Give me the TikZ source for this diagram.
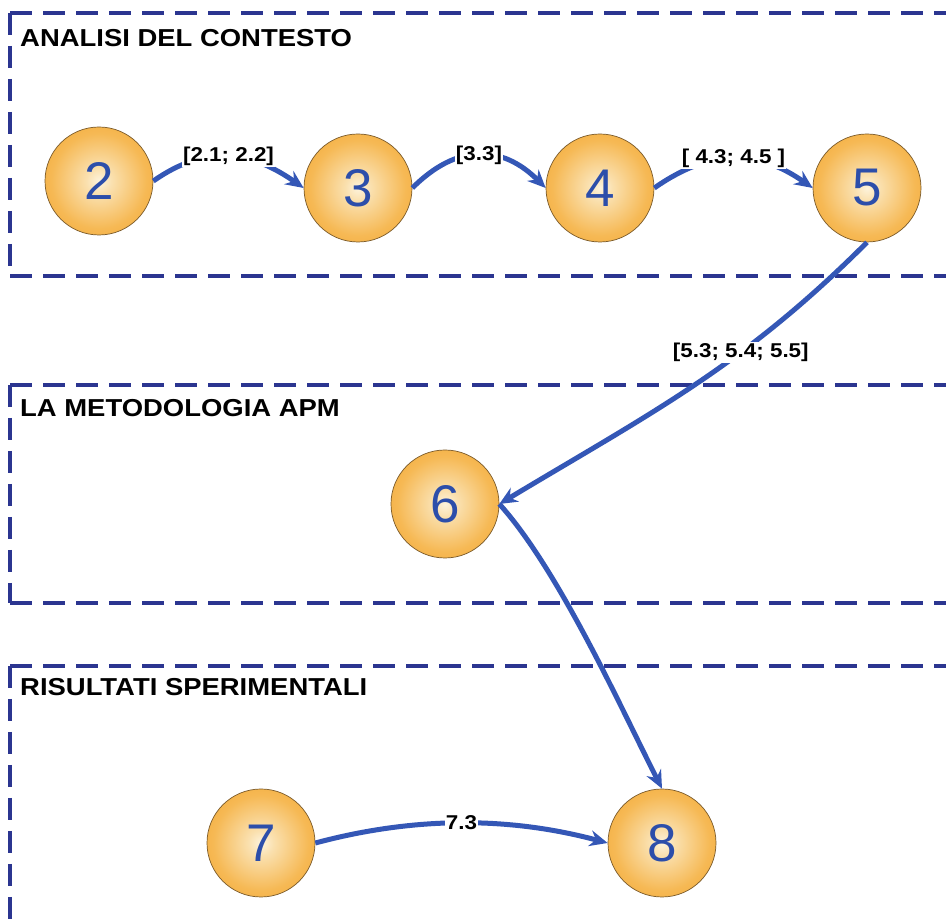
\documentclass[tikz,border=0pt]{standalone}
\usepackage{fontspec}
\setmainfont{Liberation Sans}
\newfontfamily\tagfont{Liberation Sans}[FakeStretch=1.12]
\usetikzlibrary{arrows.meta}

\definecolor{frame}{HTML}{2B3590}
\definecolor{flow}{HTML}{3457B6}
\definecolor{digit}{HTML}{2C4EAA}
\definecolor{ballcore}{HTML}{FDF3DC}
\definecolor{balllight}{HTML}{FAE0AE}
\definecolor{ballmid}{HTML}{F6B955}
\definecolor{ballrim}{HTML}{F1A126}
\definecolor{balledge}{HTML}{EE9B1F}
\definecolor{ballline}{HTML}{7A5A2A}

\pgfdeclareradialshading{ballshade}{\pgfpoint{0bp}{0bp}}{%
  color(0bp)=(ballcore); color(6bp)=(balllight);
  color(22bp)=(ballmid); color(40bp)=(ballrim); color(50bp)=(balledge)}

\tikzset{
  ball/.style={circle, minimum size=108pt, inner sep=0pt, shade, shading=ballshade,
    draw=ballline, line width=0.7pt, font=\fontsize{53}{53}\selectfont, text=digit},
  flowarrow/.style={draw=flow, line width=5pt,
    -{Stealth[length=18pt,width=16pt,inset=6pt]}},
  tag/.style={fill=white, inner sep=1pt, text=black,
    font=\tagfont\bfseries\fontsize{20}{20}\selectfont},
  zone/.style={draw=frame, line width=3.2pt, dash pattern=on 22pt off 11pt},
  zonetitle/.style={anchor=base west, inner sep=0pt, text=black,
    font=\tagfont\bfseries\fontsize{24.5}{24.5}\selectfont}
}

\begin{document}
\begin{tikzpicture}[x=1pt,y=1pt]
\useasboundingbox (0,0) rectangle (946,923);
\fill[white] (0,0) rectangle (946,923);

% dashed zones, open on the right
\begin{scope}
\clip (0,0) rectangle (946,923);
\draw[zone] (10,910) -- (960,910);
\draw[zone] (10,910) -- (10,647);
\draw[zone] (10,647) -- (960,647);
\draw[zone] (10,538) -- (960,538);
\draw[zone] (10,538) -- (10,320);
\draw[zone] (10,320) -- (960,320);
\draw[zone] (10,257) -- (960,257);
\draw[zone] (10,257) -- (10,-10);
\end{scope}

% zone titles
\node[zonetitle] (z1) at (20,876) {ANALISI DEL CONTESTO};
\node[zonetitle] (z2) at (20,506) {LA METODOLOGIA APM};
\node[zonetitle] (z3) at (20,227) {RISULTATI SPERIMENTALI};

% chapters
\node[ball] (n2) at (99,742) {2};
\node[ball] (n3) at (358,735) {3};
\node[ball] (n4) at (600,735) {4};
\node[ball] (n5) at (867,735) {5};
\node[ball] (n6) at (445,419) {6};
\node[ball] (n7) at (261,80) {7};
\node[ball] (n8) at (662,80) {8};

% links between chapters
\draw[flowarrow] (n2.east) to[out=35,in=145,looseness=1.1]
  node[tag] {[2.1; 2.2]} (n3.west);
\draw[flowarrow] (n3.east) to[out=45,in=135,looseness=1.2]
  node[tag] {[3.3]} (n4.west);
\draw[flowarrow] (n4.east) to[out=35,in=145,looseness=1.1]
  node[tag] {[ 4.3; 4.5 ]} (n5.west);
\draw[flowarrow] (n5.south) to[out=-135,in=31]
  node[tag, pos=0.36] {[5.3; 5.4; 5.5]} (n6.east);
\draw[flowarrow] (n6.east) to[out=-48,in=117,looseness=0.7] (n8.north);
\draw[flowarrow] (n7.east) to[out=15,in=165,looseness=0.9]
  node[tag] {7.3} (n8.west);
\end{tikzpicture}
\end{document}
